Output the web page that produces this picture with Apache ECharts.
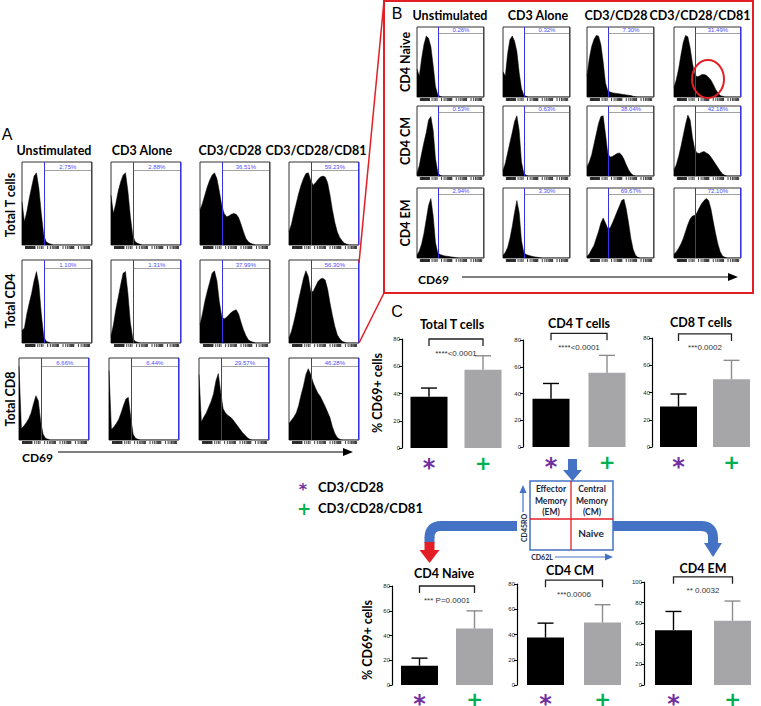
<!DOCTYPE html>
<html><head><meta charset="utf-8">
<script src="https://cdn.jsdelivr.net/npm/echarts@6/dist/echarts.min.js"></script>
<style>html,body{margin:0;padding:0;background:#fff}#c{width:761px;height:706px}</style>
</head><body><div id="c"></div>
<script>
// ================= DATA =================
const stimulations = ['Unstimulated', 'CD3 Alone', 'CD3/CD28', 'CD3/CD28/CD81'];
const panelARows = ['Total T cells', 'Total CD4', 'Total CD8'];
const panelBRows = ['CD4 Naive', 'CD4 CM', 'CD4 EM'];
const pctA = [
  ['2.75%', '2.88%', '36.51%', '59.23%'],
  ['1.10%', '1.31%', '37.99%', '56.30%'],
  ['6.66%', '6.44%', '29.57%', '46.28%']
];
const pctB = [
  ['0.26%', '0.32%', '7.30%', '31.49%'],
  ['0.53%', '0.63%', '38.04%', '42.18%'],
  ['2.94%', '3.30%', '69.67%', '72.10%']
];
// histogram heights (% of panel height) per CD69 bin, 30 bins
const aT_unstim = [52,28,40,56,70,83,87,68,38,12, 4,2,1,0,0,0,0,0,0,0, 0,0,0,0,0,0,0,0,0,0];
const aT_cd3    = [60,38,50,65,76,84,87,65,35,12, 4,2,1,0,0,0,0,0,0,0, 0,0,0,0,0,0,0,0,0,0];
const aT_cd28   = [42,50,60,70,78,84,87,80,65,48, 38,34,35,37,38,37,33,25,16,8, 4,2,1,0,0,0,0,0,0,0];
const aT_cd81   = [16,25,38,50,62,72,80,86,87,78, 72,75,79,82,83,82,75,60,42,27, 16,9,5,2,1,0,0,0,0,0];
const a4_unstim = [15,18,35,48,60,75,86,70,35,8, 2,1,0,0,0,0,0,0,0,0, 0,0,0,0,0,0,0,0,0,0];
const a4_cd3    = [8,22,40,55,70,84,86,60,25,6, 2,1,0,0,0,0,0,0,0,0, 0,0,0,0,0,0,0,0,0,0];
const a4_cd28   = [22,35,50,62,73,84,87,75,50,32, 29,31,34,37,39,40,35,25,16,9, 4,2,1,0,0,0,0,0,0,0];
const a4_cd81   = [6,14,25,38,52,65,78,87,80,62, 62,68,74,77,78,76,65,48,33,20, 10,5,2,1,0,0,0,0,0,0];
const a8_unstim = [90,14,17,21,26,33,44,54,48,22, 7,2,1,0,0,0,0,0,0,0, 0,0,0,0,0,0,0,0,0,0];
const a8_cd3    = [85,13,16,20,25,33,42,50,52,28, 7,2,1,0,0,0,0,0,0,0, 0,0,0,0,0,0,0,0,0,0];
const a8_cd28   = [80,22,28,33,40,47,56,72,81,58, 38,33,30,28,25,21,17,13,9,6, 3,1,0,0,0,0,0,0,0,0];
const a8_cd81   = [20,24,28,33,42,55,66,80,87,80, 70,63,57,53,47,41,34,27,16,8, 3,1,0,0,0,0,0,0,0,0];
const bN_unstim = [40,30,55,75,87,84,72,45,15,3, 1,0,0,0,0,0,0,0,0,0, 0,0,0,0,0,0,0,0,0,0];
const bN_cd3    = [36,30,62,82,87,80,65,35,12,3, 1,0,0,0,0,0,0,0,0,0, 0,0,0,0,0,0,0,0,0,0];
const bN_cd28   = [30,55,72,82,88,87,75,50,20,9, 7,6,5.5,5,4.5,4,3.5,3,2.5,2, 1,0.5,0,0,0,0,0,0,0,0];
const bN_cd81   = [14,25,40,60,78,88,86,70,48,32, 29,30,32,32,31,28,24,18,11,6, 2,1,0,0,0,0,0,0,0,0];
const bCM_unstim= [4,15,32,48,62,80,85,65,25,5, 1,0,0,0,0,0,0,0,0,0, 0,0,0,0,0,0,0,0,0,0];
const bCM_cd3   = [8,18,33,48,62,78,86,65,20,4, 1,0,0,0,0,0,0,0,0,0, 0,0,0,0,0,0,0,0,0,0];
const bCM_cd28  = [13,20,30,45,60,75,85,86,60,32, 27,28,30,32,33,30,24,16,9,4, 1,0,0,0,0,0,0,0,0,0];
const bCM_cd81  = [9,16,28,42,58,74,87,80,55,38, 33,32,34,35,33,31,27,22,17,12, 7,3,1,0,0,0,0,0,0,0];
const bEM_unstim= [4,10,20,35,55,75,85,60,22,7, 5,4,3,2.5,2,1.5,1,0.5,0,0, 0,0,0,0,0,0,0,0,0,0];
const bEM_cd3   = [4,8,15,28,45,65,82,65,25,8, 5,4,3,2,1.5,1,0.5,0,0,0, 0,0,0,0,0,0,0,0,0,0];
const bEM_cd28  = [2,6,12,18,28,38,50,57,50,42, 43,50,58,66,74,82,84,70,50,28, 12,4,1,0,0,0,0,0,0,0];
const bEM_cd81  = [5,9,14,20,28,38,48,56,60,61, 65,72,78,82,85,82,70,52,35,20, 9,3,1,0,0,0,0,0,0,0];

// bar charts (% CD69+ cells)
const treatments = ['CD3/CD28', 'CD3/CD28/CD81'];
const barGroups = ['Total T cells', 'CD4 T cells', 'CD8 T cells', 'CD4 Naive', 'CD4 CM', 'CD4 EM'];
const meanCD28 = [37.7, 36, 29.8, 15.6, 37.6, 53.2];
const sdCD28   = [6.3, 11.5, 9.1, 6.1, 11.4, 18.2];
const meanCD81 = [57.4, 55.5, 49.7, 45.6, 49.5, 62.3];
const sdCD81   = [10.3, 13, 13.9, 14.3, 14.1, 19.2];
const pLabels  = ['****<0.0001', '****<0.0001', '***0.0002', '*** P=0.0001', '***0.0006', '** 0.0032'];
const yMaxes   = [80, 80, 80, 80, 80, 100];

// ================= LAYOUT =================
const histA = [[aT_unstim, aT_cd3, aT_cd28, aT_cd81], [a4_unstim, a4_cd3, a4_cd28, a4_cd81], [a8_unstim, a8_cd3, a8_cd28, a8_cd81]];
const histB = [[bN_unstim, bN_cd3, bN_cd28, bN_cd81], [bCM_unstim, bCM_cd3, bCM_cd28, bCM_cd81], [bEM_unstim, bEM_cd3, bEM_cd28, bEM_cd81]];
const NB = 29; // last bin index
const GATE_LO = 9.4, GATE_HI = 28.6;

// decorative log-style ticks under each histogram
const tickFrac = [];
for (let f = 0.05; f <= 0.19; f += 0.008) tickFrac.push(f);
[0.225, 0.255, 0.28].forEach(f => tickFrac.push(f));
[0.30, 0.52, 0.74].forEach(d => { for (let k = 1; k <= 9; k++) tickFrac.push(d + 0.22 * Math.log10(k)); });
tickFrac.push(0.965);
const tickVals = tickFrac.map(f => f * NB);

const grids = [], xAxes = [], yAxes = [], series = [];

function tickRender(params, api) {
  const pt = api.coord([api.value(0), 0]);
  return {type: 'line', shape: {x1: pt[0], y1: pt[1] + 1, x2: pt[0], y2: pt[1] + 4}, style: {stroke: '#111', lineWidth: 0.8}};
}

function addHist(left, top, w, h, data, pct, barY) {
  const gi = grids.length;
  grids.push({left, top, width: w, height: h, show: true, borderColor: '#333', borderWidth: 1, backgroundColor: '#fff',
    containLabel: false, outerBoundsMode: 'none'});
  xAxes.push({gridIndex: gi, type: 'value', min: 0, max: NB, axisLine: {show: false}, axisLabel: {show: false},
    splitLine: {show: false}, axisTick: {show: false}});
  yAxes.push({gridIndex: gi, type: 'value', min: 0, max: 100, show: false});
  series.push({
    type: 'line', xAxisIndex: gi, yAxisIndex: gi, data: data.map((v, i) => [i, v]), symbol: 'none', silent: true,
    lineStyle: {color: '#000', width: 0.5}, areaStyle: {color: '#000', opacity: 1}, z: 2,
    markLine: {silent: true, symbol: ['none', 'none'], animation: false, label: {show: false}, data: [
      {xAxis: GATE_LO, lineStyle: {color: '#3434e6', width: 1, type: 'solid'}},
      {xAxis: GATE_HI, lineStyle: {color: '#3434e6', width: 1, type: 'solid'}},
      [{coord: [GATE_LO, barY], lineStyle: {color: '#8a8a8a', width: 0.8, type: 'solid'},
        label: {show: true, position: 'insideMiddleTop', distance: 0.5, formatter: pct, color: '#4d4dff', fontSize: 6, fontFamily: 'Liberation Sans'}},
       {coord: [GATE_HI, barY]}]
    ]}
  });
  series.push({type: 'custom', xAxisIndex: gi, yAxisIndex: gi, silent: true, clip: false, z: 3,
    encode: {x: 0, y: 1}, data: tickVals.map(v => [v, 0]), renderItem: tickRender});
}

const aLefts = [[22, 111, 200, 289], [22, 111, 200, 289], [19, 109, 199, 289]];
const aTops = [162, 260, 358], aH = [83, 83, 82];
for (let r = 0; r < 3; r++) for (let c = 0; c < 4; c++) addHist(aLefts[r][c], aTops[r], 70, aH[r], histA[r][c], pctA[r][c], 90);
const bLefts = [417, 503, 587, 674], bTops = [27, 106, 188];
for (let r = 0; r < 3; r++) for (let c = 0; c < 4; c++) addHist(bLefts[c], bTops[r], 67, 70, histB[r][c], pctB[r][c], 91);

// bar chart layout
const barGrid = [
  {left: 402, top: 339, width: 108, height: 109},
  {left: 523, top: 340, width: 112, height: 107},
  {left: 652, top: 338, width: 106, height: 109},
  {left: 392, top: 586, width: 110, height: 99},
  {left: 517, top: 584, width: 114, height: 101},
  {left: 644, top: 582, width: 118, height: 103}
];
const bracketLevel = [80, 85, 83, 80, 83, 105];
const PURPLE = '#7030a0', GREEN = '#00b050';

function errRender(params, api) {
  const x = api.value(0), m = api.value(1), s = api.value(2);
  const p0 = api.coord([x, m]), p1 = api.coord([x, m + s]);
  const col = x === 0 ? '#000' : '#8c8c8c';
  return {type: 'group', children: [
    {type: 'line', shape: {x1: p0[0], y1: p0[1], x2: p1[0], y2: p1[1]}, style: {stroke: col, lineWidth: 1.4}},
    {type: 'line', shape: {x1: p1[0] - 8, y1: p1[1], x2: p1[0] + 8, y2: p1[1]}, style: {stroke: col, lineWidth: 1.4}}
  ]};
}

for (let k = 0; k < 6; k++) {
  const gi = grids.length;
  grids.push(Object.assign({show: false, containLabel: false, outerBoundsMode: 'none'}, barGrid[k]));
  const lower = k >= 3;
  xAxes.push({gridIndex: gi, type: 'category', data: treatments, axisLine: {show: false}, axisTick: {show: false},
    axisLabel: {margin: lower ? 1 : 2, interval: 0, formatter: (v, i) => i === 0 ? '{s|*}' : '{p|+}',
      rich: {s: {fontSize: 24, fontWeight: 'bold', color: PURPLE, fontFamily: 'DejaVu Sans', lineHeight: 36},
             p: {fontSize: 20, fontWeight: 'bold', color: GREEN, fontFamily: 'DejaVu Sans', lineHeight: 25}}}});
  yAxes.push({gridIndex: gi, type: 'value', min: 0, max: yMaxes[k], interval: 20,
    axisLine: {show: true, lineStyle: {color: '#000', width: 1.2}},
    axisTick: {show: true, length: 3, lineStyle: {color: '#000', width: 1}},
    axisLabel: {fontSize: 6, color: '#222', margin: 2, fontFamily: '"Liberation Sans Narrow","Liberation Sans",sans-serif'},
    splitLine: {show: false}});
  series.push({type: 'bar', xAxisIndex: gi, yAxisIndex: gi, barWidth: 37, silent: true,
    data: [{value: meanCD28[k], itemStyle: {color: '#000'}}, {value: meanCD81[k], itemStyle: {color: '#a6a6a9'}}]});
  series.push({type: 'custom', xAxisIndex: gi, yAxisIndex: gi, silent: true, z: 3, encode: {x: 0, y: 1},
    data: [[0, meanCD28[k], sdCD28[k]], [1, meanCD81[k], sdCD81[k]]], renderItem: errRender});
  const lbl = pLabels[k];
  series.push({type: 'custom', xAxisIndex: gi, yAxisIndex: gi, silent: true, z: 3, encode: {x: 0, y: 2},
    data: [[0, 1, bracketLevel[k]]],
    renderItem: (params, api) => {
      const y = api.value(2);
      const p0 = api.coord([api.value(0), y]), p1 = api.coord([api.value(1), y]);
      return {type: 'group', children: [
        {type: 'polyline', shape: {points: [[p0[0], p0[1] + 7], [p0[0], p0[1]], [p1[0], p1[1]], [p1[0], p1[1] + 7]]},
          style: {stroke: '#222', lineWidth: 1.3, fill: 'none'}},
        {type: 'text', x: (p0[0] + p1[0]) / 2, y: p0[1] + 14,
          style: {text: lbl, fill: '#333', font: '8px "Liberation Sans Narrow","Liberation Sans",sans-serif', align: 'center', verticalAlign: 'middle'}}
      ]};
    }});
}

// ================= DECORATION / TEXT =================
const HB = 'bold 12.5px Lato, "Open Sans", sans-serif';
function T(text, x, y, o) {
  o = o || {};
  return {type: 'text', x, y, rotation: o.rot || 0, z: 100, silent: true,
    style: {text, fill: o.color || '#000', font: o.font || HB, align: o.align || 'center', verticalAlign: 'middle'}};
}
function L(x1, y1, x2, y2, color, w) {
  return {type: 'line', z: 100, silent: true, shape: {x1, y1, x2, y2}, style: {stroke: color, lineWidth: w, lineCap: 'butt'}};
}
function P(points, color) {
  return {type: 'polygon', z: 100, silent: true, shape: {points}, style: {fill: color}};
}
const BLUE = '#4472c4', RED = '#e31e24';
const graphics = [];
graphics.push(T('A', 7, 134, {font: '16px "Liberation Sans"'}));
graphics.push(T('B', 397, 13, {font: '16px "Liberation Sans"'}));
graphics.push(T('C', 397, 311, {font: '16px "Liberation Sans"'}));
const headXA = [54, 142, 230, 316], headXB = [450, 538, 616, 700];
stimulations.forEach((s, i) => { graphics.push(T(s, headXA[i], 150)); graphics.push(T(s, headXB[i], 15)); });
const rowYA = [205, 301, 399], rowYB = [62, 141, 223];
panelARows.forEach((s, i) => graphics.push(T(s, 10, rowYA[i], {rot: Math.PI / 2})));
panelBRows.forEach((s, i) => graphics.push(T(s, 405, rowYB[i], {rot: Math.PI / 2})));
// CD69 axes
graphics.push(T('CD69', 22, 457, {align: 'left', font: 'bold 12px Lato'}));
graphics.push(L(58, 452, 346, 452, '#000', 1.2), P([[343, 448], [353, 452], [343, 456]], '#000'));
graphics.push(T('CD69', 418, 279, {align: 'left', font: 'bold 12px Lato'}));
graphics.push(L(462, 277, 730, 277, '#000', 1.2), P([[728, 273], [738, 277], [728, 281]], '#000'));
// zoom box
graphics.push({type: 'rect', z: 100, silent: true, shape: {x: 384, y: 1, width: 369, height: 292}, style: {fill: 'none', stroke: RED, lineWidth: 2}});
graphics.push(L(359, 263, 384, 1, RED, 1.5), L(359, 343, 384, 293, RED, 1.5));
graphics.push({type: 'ellipse', z: 100, silent: true, shape: {cx: 708, cy: 79, rx: 16, ry: 19}, style: {fill: 'none', stroke: RED, lineWidth: 2}});
// bar chart titles & y labels
const titlePos = [[452, 324], [579, 323], [701, 322], [444, 573], [570, 570], [703, 568]];
barGroups.forEach((s, i) => graphics.push(T(s, titlePos[i][0], titlePos[i][1])));
graphics.push(T('% CD69+ cells', 377, 393, {rot: Math.PI / 2}));
graphics.push(T('% CD69+ cells', 367, 640, {rot: Math.PI / 2}));
// legend
graphics.push(T('*', 303, 489.5, {font: 'bold 16px "DejaVu Sans"', color: PURPLE}));
graphics.push(T(treatments[0], 318, 487, {align: 'left', font: 'bold 13px Lato'}));
graphics.push(T('+', 304, 508.5, {font: 'bold 17px "DejaVu Sans"', color: GREEN}));
graphics.push(T(treatments[1], 318, 508, {align: 'left', font: 'bold 13px Lato'}));
// quadrant diagram
graphics.push({type: 'rect', z: 100, silent: true, shape: {x: 530, y: 481, width: 83, height: 69}, style: {fill: '#fff', stroke: BLUE, lineWidth: 1.5}});
graphics.push(L(571, 481, 571, 550, RED, 1.3), L(530, 519, 613, 519, RED, 1.3));
const QF = 'bold 8.5px Lato, sans-serif', QC = '#1c2540';
[['Effector', 489], ['Memory', 501], ['(EM)', 512]].forEach(t => graphics.push(T(t[0], 551, t[1], {font: QF, color: QC})));
[['Central', 489], ['Memory', 501], ['(CM)', 512]].forEach(t => graphics.push(T(t[0], 592, t[1], {font: QF, color: QC})));
graphics.push(T('Naive', 591, 533, {font: 'bold 10px Lato, sans-serif', color: QC}));
graphics.push(T('CD45RO', 524, 528, {rot: Math.PI / 2, font: 'bold 7px Lato, sans-serif', color: QC}));
graphics.push(T('CD62L', 542, 557, {font: 'bold 7px Lato, sans-serif', color: QC}));
graphics.push(L(523, 512, 523, 492, BLUE, 1.2), P([[519.5, 493], [526.5, 493], [523, 485]], BLUE));
graphics.push(L(555, 557, 606, 557, BLUE, 1.2), P([[605, 553.5], [605, 560.5], [613, 557]], BLUE));
// thick arrows
graphics.push({type: 'rect', z: 100, silent: true, shape: {x: 568, y: 459, width: 9, height: 12}, style: {fill: BLUE}});
graphics.push(P([[563, 470], [582, 470], [572.5, 481]], BLUE));
graphics.push(L(517, 526, 440, 526, BLUE, 10));
graphics.push({type: 'bezierCurve', z: 100, silent: true, shape: {x1: 441, y1: 526, cpx1: 429.5, cpy1: 526, x2: 429.5, y2: 538}, style: {stroke: BLUE, lineWidth: 10, fill: 'none'}});
graphics.push(L(429.5, 537, 429.5, 543, BLUE, 10));
graphics.push({type: 'rect', z: 100, silent: true, shape: {x: 424.5, y: 542, width: 10, height: 9}, style: {fill: RED}});
graphics.push(P([[419.5, 550], [439.5, 550], [429.5, 563]], RED));
graphics.push(L(613, 526, 702, 526, BLUE, 10));
graphics.push({type: 'bezierCurve', z: 100, silent: true, shape: {x1: 701, y1: 526, cpx1: 713, cpy1: 526, x2: 713, y2: 538}, style: {stroke: BLUE, lineWidth: 10, fill: 'none'}});
graphics.push(L(713, 537, 713, 544, BLUE, 10));
graphics.push(P([[704, 543], [722, 543], [713, 557]], BLUE));

const chart = echarts.init(document.getElementById('c'), null, {renderer: 'svg', width: 761, height: 706});
chart.setOption({
  animation: false,
  backgroundColor: '#fff',
  grid: grids, xAxis: xAxes, yAxis: yAxes, series,
  graphic: {elements: graphics}
});
</script></body></html>
